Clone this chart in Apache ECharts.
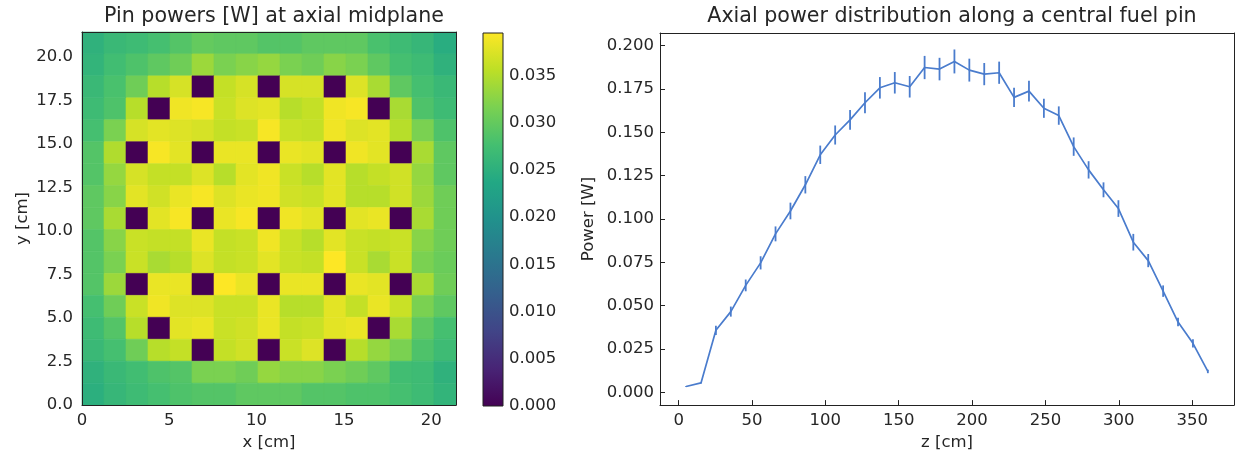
<!DOCTYPE html>
<html><head><meta charset="utf-8">
<script src="https://cdn.jsdelivr.net/npm/echarts@6/dist/echarts.min.js"></script>
<style>html,body{margin:0;padding:0;background:#fff}#c{width:1238px;height:456px}</style>
</head><body><div id="c"></div>
<script>
// ---------- data ----------
const pinPitch = 1.26;      // cm, lattice pitch (17 x 17)
// pin powers [W], rows listed from top (y max) to bottom (y min)
const pinPowers = [
 [0.0253,0.0265,0.0269,0.0277,0.0288,0.0300,0.0296,0.0296,0.0288,0.0288,0.0296,0.0296,0.0296,0.0280,0.0269,0.0261,0.0245],
 [0.0257,0.0273,0.0284,0.0296,0.0308,0.0336,0.0316,0.0324,0.0332,0.0316,0.0308,0.0324,0.0316,0.0296,0.0277,0.0269,0.0253],
 [0.0265,0.0280,0.0308,0.0352,0.0371,0,0.0360,0.0371,0,0.0371,0.0371,0,0.0375,0.0344,0.0296,0.0277,0.0265],
 [0.0269,0.0284,0.0352,0,0.0387,0.0391,0.0363,0.0375,0.0379,0.0352,0.0360,0.0387,0.0391,0,0.0344,0.0284,0.0269],
 [0.0277,0.0316,0.0371,0.0379,0.0375,0.0371,0.0360,0.0363,0.0391,0.0363,0.0360,0.0387,0.0375,0.0379,0.0352,0.0316,0.0284],
 [0.0288,0.0348,0,0.0391,0.0379,0,0.0383,0.0383,0,0.0383,0.0379,0,0.0387,0.0379,0,0.0344,0.0296],
 [0.0288,0.0332,0.0371,0.0360,0.0360,0.0375,0.0352,0.0379,0.0387,0.0363,0.0352,0.0379,0.0352,0.0360,0.0367,0.0332,0.0296],
 [0.0296,0.0324,0.0379,0.0367,0.0383,0.0391,0.0375,0.0383,0.0387,0.0367,0.0363,0.0379,0.0352,0.0352,0.0367,0.0336,0.0308],
 [0.0296,0.0344,0,0.0379,0.0391,0,0.0383,0.0391,0,0.0387,0.0379,0,0.0379,0.0383,0,0.0344,0.0308],
 [0.0288,0.0324,0.0363,0.0360,0.0360,0.0383,0.0360,0.0363,0.0387,0.0363,0.0352,0.0379,0.0363,0.0360,0.0363,0.0324,0.0308],
 [0.0288,0.0316,0.0363,0.0344,0.0352,0.0375,0.0360,0.0363,0.0379,0.0363,0.0360,0.0395,0.0363,0.0344,0.0363,0.0316,0.0304],
 [0.0288,0.0336,0,0.0383,0.0383,0,0.0395,0.0383,0,0.0383,0.0383,0,0.0383,0.0379,0,0.0344,0.0308],
 [0.0277,0.0308,0.0363,0.0387,0.0375,0.0375,0.0363,0.0363,0.0383,0.0352,0.0352,0.0379,0.0360,0.0383,0.0363,0.0316,0.0296],
 [0.0269,0.0288,0.0352,0,0.0379,0.0383,0.0363,0.0367,0.0383,0.0360,0.0363,0.0379,0.0383,0,0.0344,0.0296,0.0277],
 [0.0265,0.0277,0.0308,0.0352,0.0360,0,0.0360,0.0367,0,0.0363,0.0375,0,0.0352,0.0332,0.0316,0.0284,0.0269],
 [0.0253,0.0265,0.0273,0.0284,0.0288,0.0316,0.0316,0.0308,0.0332,0.0324,0.0324,0.0316,0.0308,0.0296,0.0273,0.0269,0.0253],
 [0.0249,0.0261,0.0269,0.0277,0.0284,0.0288,0.0288,0.0296,0.0296,0.0296,0.0288,0.0288,0.0284,0.0284,0.0277,0.0269,0.0257]
];
const heatXTicks = [0, 5, 10, 15, 20];
const heatYTicks = [0, 2.5, 5, 7.5, 10, 12.5, 15, 17.5, 20];
const cbarTicks = [0, 0.005, 0.010, 0.015, 0.020, 0.025, 0.030, 0.035];
const cbarMin = 0;
const cbarMax = 0.0395;

const zPos = [5.08,15.24,25.40,35.56,45.72,55.88,66.04,76.20,86.36,96.52,106.68,116.84,127.00,137.16,147.32,157.48,167.64,177.80,187.96,198.12,208.28,218.44,228.60,238.76,248.92,259.08,269.24,279.40,289.56,299.72,309.88,320.04,330.20,340.36,350.52,360.68];
const axialPower = [0.0034,0.0055,0.0358,0.0466,0.0617,0.0747,0.0914,0.1046,0.1197,0.1370,0.1484,0.1571,0.1670,0.1756,0.1785,0.1762,0.1873,0.1864,0.1908,0.1858,0.1835,0.1843,0.1701,0.1737,0.1638,0.1596,0.1417,0.1283,0.1168,0.1060,0.0866,0.0760,0.0584,0.0406,0.0283,0.0121];
const axialErr = [0.0003,0.0004,0.0027,0.0029,0.0034,0.0038,0.0043,0.0048,0.0050,0.0053,0.0055,0.0057,0.0060,0.0062,0.0062,0.0062,0.0067,0.0065,0.0069,0.0066,0.0064,0.0064,0.0055,0.0060,0.0055,0.0053,0.0053,0.0050,0.0043,0.0048,0.0048,0.0038,0.0033,0.0024,0.0024,0.0010];
const zTicks = [0, 50, 100, 150, 200, 250, 300, 350];
const powerTicks = [0, 0.025, 0.050, 0.075, 0.100, 0.125, 0.150, 0.175, 0.200];

// ---------- styles ----------
const viridis = ['#440154','#482475','#414487','#355f8d','#2a788e','#21918c','#22a884','#44bf70','#7ad151','#bddf26','#fde725'];
const FONT = 'DejaVu Sans';
const TXT = '#262626';
const AX = '#222';
const lineColor = '#4a7ccd';

const nRows = pinPowers.length, nCols = pinPowers[0].length;
const extent = nCols * pinPitch;
const heatData = [];
pinPowers.forEach((row, r) => row.forEach((v, c) => {
  heatData.push([(c + 0.5) * pinPitch, (nRows - 1 - r + 0.5) * pinPitch, v]);
}));
const lineData = zPos.map((z, i) => [z, axialPower[i]]);
const errData = zPos.map((z, i) => [z, axialPower[i] - axialErr[i], axialPower[i] + axialErr[i]]);

const lbl = (extra) => Object.assign({color: TXT, fontFamily: FONT, fontSize: 16.5}, extra);
const frameAxis = (type, gi, pos, min, max) => ({
  type: 'value', gridIndex: gi, position: pos, min: min, max: max, z: 10,
  axisLine: {show: true, onZero: false, lineStyle: {color: AX, width: 1}},
  axisTick: {show: false}, axisLabel: {show: false}, splitLine: {show: false}
});

const chart = echarts.init(document.getElementById('c'), null, {renderer: 'canvas'});
chart.setOption({
  animation: false,
  backgroundColor: '#fff',
  title: [
    {text: 'Pin powers [W] at axial midplane', left: 269, top: 1, textAlign: 'center',
     textStyle: {fontSize: 20.6, fontWeight: 'normal', fontFamily: FONT, color: TXT}},
    {text: 'Axial power distribution along a central fuel pin', left: 947, top: 1, textAlign: 'center',
     textStyle: {fontSize: 20.6, fontWeight: 'normal', fontFamily: FONT, color: TXT}}
  ],
  grid: [
    {left: 82, top: 32, width: 374, height: 374},
    {left: 483, top: 33, width: 20, height: 373},
    {left: 660, top: 33, width: 574, height: 373}
  ],
  xAxis: [
    {type: 'value', gridIndex: 0, min: 0, max: extent, z: 10,
     name: 'x [cm]', nameLocation: 'middle', nameGap: 28, nameTextStyle: lbl(),
     axisLine: {show: true, onZero: false, lineStyle: {color: AX}},
     axisTick: {show: false}, splitLine: {show: false},
     axisLabel: lbl({margin: 7, customValues: heatXTicks, formatter: v => String(v)})},
    frameAxis('x', 0, 'top', 0, extent),
    {type: 'value', gridIndex: 1, min: 0, max: 1, show: false},
    {type: 'value', gridIndex: 2, min: -12.7, max: 378.5, z: 10,
     name: 'z [cm]', nameLocation: 'middle', nameGap: 28, nameTextStyle: lbl(),
     axisLine: {show: true, onZero: false, lineStyle: {color: AX}},
     axisTick: {show: true, inside: true, length: 5, customValues: zTicks, lineStyle: {color: AX}},
     splitLine: {show: false},
     axisLabel: lbl({margin: 7, customValues: zTicks, formatter: v => String(v)})},
    frameAxis('x', 2, 'top', -12.7, 378.5)
  ],
  yAxis: [
    {type: 'value', gridIndex: 0, min: 0, max: extent, z: 10,
     name: 'y [cm]', nameLocation: 'middle', nameGap: 51, nameTextStyle: lbl(),
     axisLine: {show: true, onZero: false, lineStyle: {color: AX}},
     axisTick: {show: false}, splitLine: {show: false},
     axisLabel: lbl({margin: 9, customValues: heatYTicks, formatter: v => v.toFixed(1)})},
    frameAxis('y', 0, 'right', 0, extent),
    {type: 'value', gridIndex: 1, min: cbarMin, max: cbarMax, position: 'right',
     axisLine: {show: false}, axisTick: {show: false}, splitLine: {show: false},
     axisLabel: lbl({margin: 6, customValues: cbarTicks, formatter: v => v.toFixed(3)})},
    {type: 'value', gridIndex: 2, min: -0.0073, max: 0.2072, z: 10,
     name: 'Power [W]', nameLocation: 'middle', nameGap: 63, nameTextStyle: lbl(),
     axisLine: {show: true, onZero: false, lineStyle: {color: AX}},
     axisTick: {show: true, inside: true, length: 5, customValues: powerTicks, lineStyle: {color: AX}},
     splitLine: {show: false},
     axisLabel: lbl({margin: 6, customValues: powerTicks, formatter: v => v.toFixed(3)})},
    frameAxis('y', 2, 'right', -0.0073, 0.2072)
  ],
  visualMap: [{
    type: 'continuous', show: false, seriesIndex: 0, dimension: 2,
    min: cbarMin, max: cbarMax, inRange: {color: viridis}
  }],
  series: [
    {type: 'custom', name: 'pin power', xAxisIndex: 0, yAxisIndex: 0, silent: true,
     data: heatData, encode: {x: 0, y: 1},
     renderItem: function (params, api) {
       const x = api.value(0), y = api.value(1);
       const p0 = api.coord([x - pinPitch / 2, y + pinPitch / 2]);
       const p1 = api.coord([x + pinPitch / 2, y - pinPitch / 2]);
       const col = api.visual('color');
       return {type: 'rect', shape: {x: p0[0], y: p0[1], width: p1[0] - p0[0], height: p1[1] - p0[1]},
               style: {fill: col, stroke: col, lineWidth: 0.6}};
     }},
    {type: 'custom', name: 'colorbar', xAxisIndex: 2, yAxisIndex: 2, silent: true,
     data: [[0, cbarMin, 1, cbarMax]], encode: {x: [0, 2], y: [1, 3]},
     renderItem: function (params, api) {
       const p0 = api.coord([api.value(0), api.value(3)]);
       const p1 = api.coord([api.value(2), api.value(1)]);
       return {type: 'rect', shape: {x: p0[0], y: p0[1], width: p1[0] - p0[0], height: p1[1] - p0[1]},
               style: {fill: {type: 'linear', x: 0, y: 1, x2: 0, y2: 0,
                 colorStops: viridis.map((c, i) => ({offset: i / (viridis.length - 1), color: c}))},
                 stroke: AX, lineWidth: 1}};
     }},
    {type: 'line', name: 'axial', xAxisIndex: 3, yAxisIndex: 3, data: lineData,
     symbol: 'none', silent: true, lineStyle: {color: lineColor, width: 1.7}, z: 3},
    {type: 'custom', name: 'err', xAxisIndex: 3, yAxisIndex: 3, data: errData, silent: true,
     encode: {x: 0, y: [1, 2]}, z: 4,
     renderItem: function (params, api) {
       const a = api.coord([api.value(0), api.value(1)]);
       const b = api.coord([api.value(0), api.value(2)]);
       return {type: 'line', shape: {x1: a[0], y1: a[1], x2: b[0], y2: b[1]},
               style: {stroke: lineColor, lineWidth: 1.8}};
     }}
  ]
});
</script></body></html>
